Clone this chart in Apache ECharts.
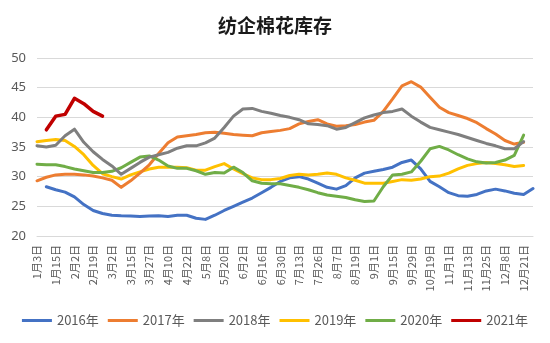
<!DOCTYPE html>
<html>
<head>
<meta charset="utf-8">
<script src="https://cdn.jsdelivr.net/npm/echarts@6/dist/echarts.min.js"></script>
<style>
html,body{margin:0;padding:0;background:#fff;}
#c{width:550px;height:343px;}
</style>
</head>
<body>
<div id="c"></div>
<script>
var categories = [
 '1月3日','1月9日','1月15日','1月24日','2月2日','2月10日','2月19日','2月24日','3月2日','3月8日',
 '3月15日','3月21日','3月27日','4月3日','4月10日','4月16日','4月22日','4月30日','5月8日','5月14日',
 '5月20日','5月26日','6月2日','6月9日','6月16日','6月23日','6月30日','7月6日','7月13日','7月19日',
 '7月26日','8月1日','8月7日','8月13日','8月19日','8月25日','9月1日','9月8日','9月15日','9月22日',
 '9月29日','10月9日','10月19日','10月26日','11月1日','11月7日','11月13日','11月19日','11月25日','12月1日',
 '12月8日','12月14日','12月21日','12月28日'
];
var seriesNames = ['2016年','2017年','2018年','2019年','2020年','2021年'];
var y2016 = [null,28.3,27.8,27.4,26.6,25.3,24.3,23.8,23.5,23.4,23.35,23.3,23.35,23.4,23.3,23.5,23.5,23.0,22.8,23.5,
 24.3,25.0,25.7,26.4,27.3,28.2,29.2,29.8,30.0,29.6,28.9,28.2,27.9,28.5,29.8,30.6,30.9,31.2,31.6,32.4,
 32.8,31.3,29.2,28.3,27.3,26.8,26.7,27.0,27.6,27.9,27.6,27.2,27.0,28.0];
var y2017 = [29.3,29.9,30.3,30.4,30.4,30.3,30.1,29.8,29.4,28.2,29.3,30.6,32.0,33.9,35.7,36.7,36.9,37.1,37.4,37.5,
 37.3,37.1,37.0,36.9,37.4,37.6,37.8,38.1,38.9,39.3,39.6,38.9,38.5,38.6,38.8,39.2,39.5,41.0,43.1,45.3,
 46.0,45.1,43.4,41.7,40.8,40.3,39.8,39.1,38.1,37.2,36.1,35.5,35.8,null];
var y2018 = [35.2,35.0,35.3,36.9,38.0,35.8,34.2,32.9,31.8,30.4,31.4,32.4,33.3,33.7,34.1,34.8,35.2,35.2,35.7,36.5,
 38.3,40.2,41.4,41.5,41.0,40.7,40.3,40.0,39.6,38.9,38.8,38.6,38.0,38.3,39.1,39.9,40.4,40.8,41.0,41.4,
 40.2,39.2,38.3,37.9,37.5,37.1,36.6,36.1,35.6,35.2,34.7,34.7,35.9,null];
var y2019 = [35.9,36.1,36.25,36.1,35.1,33.7,31.9,30.5,30.0,29.6,30.3,30.8,31.3,31.6,31.6,31.6,31.5,31.1,31.1,31.7,
 32.2,31.3,30.5,29.8,29.5,29.5,29.7,30.2,30.4,30.3,30.4,30.6,30.4,29.8,29.4,28.9,28.9,28.9,29.2,29.5,
 29.4,29.6,30.0,30.1,30.6,31.3,31.9,32.2,32.4,32.2,32.0,31.7,31.9,null];
var y2020 = [32.1,32.0,32.0,31.7,31.3,31.0,30.7,30.7,30.9,31.5,32.4,33.3,33.5,32.8,31.8,31.4,31.4,31.0,30.4,30.7,
 30.6,31.6,30.7,29.3,28.9,28.8,28.8,28.5,28.2,27.8,27.3,26.9,26.7,26.5,26.1,25.8,25.9,28.3,30.3,30.4,
 30.8,32.6,34.7,35.1,34.5,33.7,33.0,32.5,32.3,32.4,32.8,33.6,37.0,null];
var y2021 = [null,37.9,40.2,40.5,43.2,42.3,41.0,40.2];
var yTicks = {min:20, max:50, interval:5};
var colors = ['#4472C4','#ED7D31','#7F7F7F','#FFC000','#70AD47','#C00000'];
var allData = [y2016,y2017,y2018,y2019,y2020,y2021];

var chart = echarts.init(document.getElementById('c'), null, {renderer:'canvas'});
var series = seriesNames.map(function(n,i){
  return {
    name:n, type:'line', data:allData[i], showSymbol:false, symbol:'none',
    connectNulls:false, smooth:false,
    lineStyle:{color:colors[i], width: i===5 ? 3.5 : 3, cap:'round', join:'round'},
    itemStyle:{color:colors[i]},
    z: [2,3,4,2,3,6][i]
  };
});
chart.setOption({
  animation:false,
  backgroundColor:'#fff',
  title:{text:'纺企棉花库存', left:'center', top:11,
    textStyle:{fontSize:19, fontWeight:'bold', color:'#1a1a1a', fontFamily:'Noto Sans CJK SC'}},
  grid:{left:37, right:17, top:58, bottom:107, containLabel:false},
  legend:{bottom:11, left:'center', icon:'rect', itemWidth:30, itemHeight:3, itemGap:9,
    textStyle:{fontSize:13, color:'#595959', fontFamily:'Noto Sans CJK SC'},
    data:seriesNames},
  xAxis:{type:'category', data:categories, boundaryGap:false,
    axisLine:{show:true, lineStyle:{color:'#d9d9d9', width:1}},
    axisTick:{show:false},
    axisLabel:{interval:1, rotate:90, fontSize:11, color:'#595959', margin:9, fontFamily:'Noto Sans CJK SC'},
    splitLine:{show:false}},
  yAxis:{type:'value', min:yTicks.min, max:yTicks.max, interval:yTicks.interval,
    axisLine:{show:false}, axisTick:{show:false},
    axisLabel:{fontSize:13, color:'#595959', margin:11, fontFamily:'Noto Sans'},
    splitLine:{lineStyle:{color:'#d9d9d9', width:1}}},
  series:series
});
</script>
</body>
</html>
